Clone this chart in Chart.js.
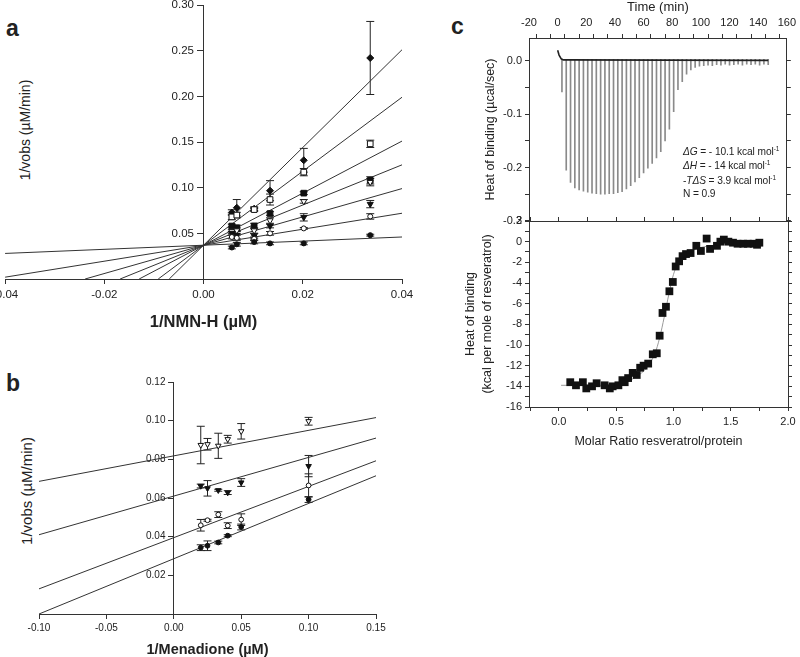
<!DOCTYPE html>
<html>
<head>
<meta charset="utf-8">
<script src="https://cdn.jsdelivr.net/npm/chart.js@4.4.1/dist/chart.umd.min.js"></script>
<style>
  body { margin:0; width:800px; height:657px; position:relative; overflow:hidden; background:#fff;
         font-family:"Liberation Sans", Arial, sans-serif; color:#222; }
  .panel { position:absolute; }
  .tag { position:absolute; font-weight:bold; font-size:23px; line-height:1; }
  .ytitle { position:absolute; white-space:nowrap; transform:translate(-50%,-50%) rotate(-90deg); }
  .note { position:absolute; left:683px; font-size:10.2px; white-space:nowrap; line-height:1; letter-spacing:-0.1px; }
  .note sup { font-size:6.5px; vertical-align:4px; line-height:0; }
</style>
</head>
<body>
<div class="tag" style="left:6px;top:17px">a</div>
<div class="tag" style="left:6px;top:372px">b</div>
<div class="tag" style="left:451px;top:15px">c</div>

<div class="ytitle" style="left:25px;top:130px;font-size:14px">1/vobs (µM/min)</div>
<div class="ytitle" style="left:26px;top:491px;font-size:15px">1/vobs (µM/min)</div>

<div class="panel" style="left:-12px;top:-5px"><canvas id="chartA" width="430" height="340"></canvas></div>
<div class="panel" style="left:0px;top:367px"><canvas id="chartB" width="400" height="300"></canvas></div>
<div class="panel" style="left:440px;top:207px"><canvas id="chartC2" width="360" height="250"></canvas></div>
<div class="panel" style="left:440px;top:0px"><canvas id="chartC1" width="360" height="235"></canvas></div>

<div class="note" style="top:147px"><i>ΔG</i> = - 10.1 kcal mol<sup>-1</sup></div>
<div class="note" style="top:161px"><i>ΔH</i> = - 14 kcal mol<sup>-1</sup></div>
<div class="note" style="top:176px">-<i>T</i><i>ΔS</i> = 3.9 kcal mol<sup>-1</sup></div>
<div class="note" style="top:189px">N = 0.9</div>

<script>
// ---------- panel a : 1/vobs vs 1/NMN-H ----------
const aX = [0.0057, 0.0067, 0.0102, 0.0134, 0.0202, 0.0336];
const aY1 = [0.0345, 0.038, 0.0405, 0.039, 0.039, 0.048];      // filled circle
const aE1 = [0.0015, 0.002, 0.002, 0.0015, 0.0015, 0.001];
const aY2 = [0.046, 0.045, 0.044, 0.050, 0.0554, 0.0685];      // open circle
const aE2 = [0.002, 0.003, 0.002, 0.002, 0.001, 0.003];
const aY3 = [0.050, 0.048, 0.047, 0.058, 0.0675, 0.082];       // filled triangle
const aE3 = [0.002, 0.004, 0.003, 0.002, 0.004, 0.004];
const aY4 = [0.052, 0.053, 0.053, 0.064, 0.085, 0.106];        // open triangle
const aE4 = [0.002, 0.003, 0.003, 0.003, 0.002, 0.004];
const aY5 = [0.058, 0.056, 0.058, 0.0717, 0.094, 0.108];       // filled square
const aE5 = [0.002, 0.003, 0.003, 0.002, 0.0015, 0.004];
const aY6 = [0.068, 0.070, 0.076, 0.087, 0.117, 0.148];        // open square
const aE6 = [0.003, 0.003, 0.002, 0.006, 0.004, 0.004];
const aY7 = [0.0728, 0.078, 0.077, 0.0967, 0.130, 0.242];      // diamond
const aE7 = [0.003, 0.009, 0.002, 0.011, 0.013, 0.040];
const aIntercept = 0.037;
const aSlopes = [0.225, 0.875, 1.55, 2.2, 2.85, 4.05, 5.35];
const aTicksY = [0.05, 0.10, 0.15, 0.20, 0.25, 0.30];

// ---------- panel b : 1/vobs vs 1/Menadione ----------
const bX = [0.02, 0.025, 0.033, 0.04, 0.05, 0.10];
const bY1 = [0.0874, 0.0878, 0.087, 0.0904, 0.0945, 0.0997];   // open triangle
const bE1 = [0.0097, 0.003, 0.0065, 0.002, 0.004, 0.002];
const bY2 = [0.0662, 0.065, 0.064, 0.0628, 0.068, 0.0765];     // filled triangle
const bE2 = [0.001, 0.004, 0.0005, 0.001, 0.002, 0.0055];
const bY3 = [0.0459, 0.0485, 0.0514, 0.0457, 0.0488, 0.0665];  // open circle
const bE3 = [0.003, 0.0005, 0.0015, 0.0015, 0.003, 0.006];
const bY4 = [0.0343, 0.0353, 0.037, 0.0405, 0.045, 0.0592];    // filled circle
const bE4 = [0.0015, 0.0025, 0.0007, 0.0005, 0.0015, 0.0015];
const bIntercepts = [0.0818, 0.061, 0.0395, 0.0286];
const bSlopes = [0.132, 0.2, 0.265, 0.286];

// ---------- panel c : ITC raw trace ----------
const injStart = 3, injInterval = 3;   // injection schedule (min)
const spikeDepth = [-0.058, -0.205, -0.228, -0.238, -0.242, -0.244, -0.246, -0.248, -0.249, -0.250,
  -0.250, -0.249, -0.249, -0.247, -0.245, -0.240, -0.234, -0.227, -0.219, -0.210,
  -0.201, -0.192, -0.182, -0.170, -0.150, -0.128, -0.095, -0.054, -0.039, -0.025,
  -0.017, -0.012, -0.010, -0.009, -0.008, -0.009, -0.007, -0.008, -0.006, -0.008,
  -0.007, -0.006, -0.008, -0.006, -0.007, -0.006, -0.008, -0.006, -0.007];
const baseT = [0, 1, 2.5, 4, 147];
const baseY = [0.02, 0.011, 0.004, 0.002, 0.001];

// ---------- panel c : integrated heats ----------
const cX = [0.10, 0.15, 0.21, 0.24, 0.29, 0.33, 0.40, 0.445, 0.47, 0.52, 0.555, 0.575, 0.605, 0.645, 0.68,
  0.71, 0.74, 0.78, 0.82, 0.855, 0.88, 0.905, 0.935, 0.965, 0.995, 1.02, 1.05, 1.08, 1.11, 1.15,
  1.20, 1.24, 1.29, 1.32, 1.38, 1.41, 1.44, 1.48, 1.52, 1.56, 1.61, 1.65, 1.70, 1.73, 1.75];
const cY = [-13.6, -13.9, -13.6, -14.2, -14.0, -13.7, -13.9, -14.2, -14.0, -13.9, -13.4, -13.6, -13.2, -12.7, -12.9,
  -12.2, -12.0, -11.8, -10.9, -10.8, -9.1, -6.9, -6.3, -4.8, -3.9, -2.4, -1.9, -1.4, -1.2, -1.1,
  -0.4, -0.9, 0.3, -0.7, -0.4, 0.0, 0.2, 0.0, -0.1, -0.2, -0.2, -0.2, -0.2, -0.3, -0.1];
const fitX = [0.02, 0.3, 0.5, 0.6, 0.7, 0.78, 0.84, 0.88, 0.92, 0.96, 1.0, 1.04, 1.1, 1.2, 1.35, 1.5, 1.75];
const fitY = [-13.9, -13.9, -13.8, -13.5, -12.9, -12.0, -10.8, -9.3, -7.3, -5.1, -3.2, -2.1, -1.3, -0.7, -0.35, -0.15, -0.05];

Chart.defaults.font.family = '"Liberation Sans", Arial, sans-serif';
Chart.defaults.color = '#222';
Chart.defaults.animation = false;
Chart.defaults.plugins.legend.display = false;
Chart.defaults.plugins.tooltip.enabled = false;

// vertical error bars, drawn through the y scale
const errorBars = {
    id: 'errorBars',
    beforeDatasetsDraw(chart) {
        const ctx = chart.ctx;
        const ys = chart.scales.y;
        chart.data.datasets.forEach((ds, i) => {
            if (!ds.errors) return;
            const meta = chart.getDatasetMeta(i);
            ctx.save();
            ctx.strokeStyle = '#222';
            ctx.lineWidth = 1;
            meta.data.forEach((pt, j) => {
                const e = ds.errors[j];
                if (!e) return;
                const v = ds.data[j].y;
                const top = ys.getPixelForValue(v + e);
                const bot = ys.getPixelForValue(v - e);
                ctx.beginPath();
                ctx.moveTo(pt.x, top); ctx.lineTo(pt.x, bot);
                ctx.moveTo(pt.x - 4, top); ctx.lineTo(pt.x + 4, top);
                ctx.moveTo(pt.x - 4, bot); ctx.lineTo(pt.x + 4, bot);
                ctx.stroke();
            });
            ctx.restore();
        });
    }
};

function markerSet(xs, ys, errs, style) {
    return Object.assign({
        data: xs.map((x, i) => ({ x: x, y: ys[i] })),
        errors: errs,
        showLine: false,
        borderColor: '#111',
        borderWidth: 1,
        pointBorderColor: '#111'
    }, style);
}

function fitLine(x0, x1, b, m) {
    return {
        data: [{ x: x0, y: b + m * x0 }, { x: x1, y: b + m * x1 }],
        showLine: true, borderColor: '#333', borderWidth: 1, pointRadius: 0
    };
}

const FILL = '#111', OPEN = '#fff';
const GAP = '   '; // keeps labels clear of an axis that sits inside the plot
function grid(len) {
    return { drawOnChartArea: false, tickLength: len, color: '#333', tickColor: '#333' };
}

// --- Panel a ---
const aXmin = -0.04, aXmax = 0.04;
const aLines = aSlopes.map(m => fitLine(Math.max(aXmin, -aIntercept / m), aXmax, aIntercept, m));
new Chart(document.getElementById('chartA'), {
    type: 'scatter',
    data: {
        datasets: [
            markerSet(aX, aY1, aE1, { pointStyle: 'circle', pointRadius: 2.5, pointBackgroundColor: FILL }),
            markerSet(aX, aY2, aE2, { pointStyle: 'circle', pointRadius: 2.5, pointBackgroundColor: OPEN }),
            markerSet(aX, aY3, aE3, { pointStyle: 'triangle', rotation: 180, pointRadius: 3.5, pointBackgroundColor: FILL }),
            markerSet(aX, aY4, aE4, { pointStyle: 'triangle', rotation: 180, pointRadius: 3.5, pointBackgroundColor: OPEN }),
            markerSet(aX, aY5, aE5, { pointStyle: 'rect', pointRadius: 4, pointBackgroundColor: FILL }),
            markerSet(aX, aY6, aE6, { pointStyle: 'rect', pointRadius: 4, pointBackgroundColor: OPEN }),
            markerSet(aX, aY7, aE7, { pointStyle: 'rectRot', pointRadius: 3.5, pointBackgroundColor: FILL })
        ].concat(aLines)
    },
    options: {
        responsive: false,
        layout: { padding: { left: 14, right: 16, top: 10, bottom: 0 } },
        scales: {
            x: {
                type: 'linear', position: 'bottom', min: aXmin, max: aXmax,
                ticks: { stepSize: 0.02, includeBounds: false, padding: 4, font: { size: 11.5 },
                         callback: v => v.toFixed(2) },
                grid: grid(5), border: { color: '#333' },
                title: { display: true, text: '1/NMN-H (µM)', font: { size: 16.5, weight: 'bold' },
                         padding: { top: 0, bottom: 3 } },
                afterFit: s => { s.height = 56; }
            },
            y: {
                type: 'linear', position: { x: 0 }, min: 0, max: 0.30,
                afterBuildTicks: s => { s.ticks = [0].concat(aTicksY).map(v => ({ value: v })); },
                ticks: { includeBounds: false, font: { size: 11.5 },
                         callback: v => v < 1e-9 ? '' : v.toFixed(2) + GAP },
                grid: grid(6), border: { color: '#333' }
            }
        }
    },
    plugins: [errorBars]
});

// --- Panel b ---
const bXmin = -0.10, bXmax = 0.15;
const bLines = bSlopes.map((m, i) => fitLine(bXmin, bXmax, bIntercepts[i], m));
new Chart(document.getElementById('chartB'), {
    type: 'scatter',
    data: {
        datasets: [
            markerSet(bX, bY1, bE1, { pointStyle: 'triangle', rotation: 180, pointRadius: 3.2, pointBackgroundColor: OPEN }),
            markerSet(bX, bY2, bE2, { pointStyle: 'triangle', rotation: 180, pointRadius: 3.2, pointBackgroundColor: FILL }),
            markerSet(bX, bY3, bE3, { pointStyle: 'circle', pointRadius: 2.4, pointBackgroundColor: OPEN }),
            markerSet(bX, bY4, bE4, { pointStyle: 'circle', pointRadius: 2.4, pointBackgroundColor: FILL })
        ].concat(bLines)
    },
    options: {
        responsive: false,
        layout: { padding: { left: 39, right: 24, top: 15, bottom: 0 } },
        scales: {
            x: {
                type: 'linear', position: 'bottom', min: bXmin, max: bXmax,
                ticks: { stepSize: 0.05, includeBounds: false, padding: 3, font: { size: 10 },
                         callback: v => v.toFixed(2) },
                grid: grid(5), border: { color: '#333' },
                title: { display: true, text: '1/Menadione (µM)', font: { size: 14.5, weight: 'bold' },
                         padding: { top: 0, bottom: 8 } },
                afterFit: s => { s.height = 53; }
            },
            y: {
                type: 'linear', position: { x: 0 }, min: 0, max: 0.12,
                ticks: { stepSize: 0.02, includeBounds: false, font: { size: 10 },
                         callback: v => v < 1e-9 ? '' : v.toFixed(2) + GAP },
                grid: grid(5), border: { color: '#333' }
            }
        }
    },
    plugins: [errorBars]
});

// --- Panel c, raw ITC trace ---
const spikes = spikeDepth.map((d, i) => ({ x: injStart + i * injInterval, y: [0.003, d] }));
new Chart(document.getElementById('chartC1'), {
    type: 'scatter',
    data: {
        datasets: [
            { data: baseT.map((t, i) => ({ x: t, y: baseY[i] })), showLine: true,
              borderColor: '#222', borderWidth: 1.6, pointRadius: 0 },
            { type: 'bar', data: spikes, backgroundColor: '#8a8a8a', borderWidth: 0, barThickness: 1 }
        ]
    },
    options: {
        responsive: false,
        layout: { padding: { left: 40, right: 0, top: 0, bottom: 14 } },
        scales: {
            x: {
                type: 'linear', position: 'top', min: -20, max: 160, offset: false,
                ticks: { stepSize: 10, includeBounds: false, padding: 4, maxRotation: 0, autoSkip: false,
                         font: { size: 11 }, callback: v => (v % 20 === 0 ? String(v) : '') },
                grid: grid(4), border: { color: '#333' },
                title: { display: true, text: 'Time (min)', font: { size: 13 }, padding: { top: 0, bottom: 0 } },
                afterFit: s => { s.height = 38; }
            },
            y: {
                type: 'linear', position: 'left', min: -0.3001, max: 0.043,
                ticks: { stepSize: 0.05, includeBounds: false, padding: 3, autoSkip: false, font: { size: 11 },
                         callback: v => (Math.abs(Math.round(v * 10) - v * 10) < 1e-6 ? (Math.round(v * 10) / 10).toFixed(1) : '') },
                grid: grid(4), border: { color: '#333' },
                title: { display: true, text: 'Heat of binding (µcal/sec)', font: { size: 12.5 }, padding: { top: 3, bottom: 0 } },
                afterFit: s => { s.width = 49; }
            },
            y2: {
                type: 'linear', position: 'right', min: -0.3001, max: 0.043,
                ticks: { display: false, stepSize: 0.05, includeBounds: false },
                grid: grid(4), border: { color: '#333' },
                afterFit: s => { s.width = 12; }
            }
        }
    }
});

// --- Panel c, integrated heats ---
new Chart(document.getElementById('chartC2'), {
    type: 'scatter',
    data: {
        datasets: [
            { data: cX.map((x, i) => ({ x: x, y: cY[i] })), pointStyle: 'rect', pointRadius: 5.5,
              pointBackgroundColor: '#111', pointBorderColor: '#111', borderWidth: 0 },
            { data: fitX.map((x, i) => ({ x: x, y: fitY[i] })), showLine: true, borderColor: '#9a9a9a',
              borderWidth: 1, pointRadius: 0, cubicInterpolationMode: 'monotone' }
        ]
    },
    options: {
        responsive: false,
        layout: { padding: { left: 22, right: 0, top: 14, bottom: 0 } },
        scales: {
            x: {
                type: 'linear', position: 'bottom', min: -0.26, max: 2.0,
                ticks: { stepSize: 0.25, includeBounds: false, padding: 4, autoSkip: false, maxRotation: 0,
                         font: { size: 11 }, callback: v => (Math.abs(v * 2 - Math.round(v * 2)) < 1e-6 ? v.toFixed(1) : '') },
                grid: grid(4), border: { color: '#333' },
                title: { display: true, text: 'Molar Ratio resveratrol/protein', font: { size: 12.5 },
                         padding: { top: 0, bottom: 8 } },
                afterFit: s => { s.height = 50; }
            },
            x2: {
                type: 'linear', position: 'top', min: -0.26, max: 2.0,
                ticks: { display: false, stepSize: 0.25, includeBounds: false },
                grid: grid(4), border: { color: '#333' },
                afterFit: s => { s.height = 0; }
            },
            y: {
                type: 'linear', position: 'left', min: -16, max: 2,
                ticks: { stepSize: 1, includeBounds: false, padding: 3, autoSkip: false, font: { size: 11 },
                         callback: v => (v % 2 === 0 ? String(v) : '') },
                grid: grid(4), border: { color: '#333' },
                title: { display: true, text: ['Heat of binding', '(kcal per mole of resveratrol)'],
                         font: { size: 12.5, lineHeight: 1.35 }, padding: { top: 0, bottom: 0 } },
                afterFit: s => { s.width = 67; }
            },
            y2: {
                type: 'linear', position: 'right', min: -16, max: 2,
                ticks: { display: false, stepSize: 1, includeBounds: false },
                grid: grid(4), border: { color: '#333' },
                afterFit: s => { s.width = 12; }
            }
        }
    }
});
</script>
</body>
</html>
